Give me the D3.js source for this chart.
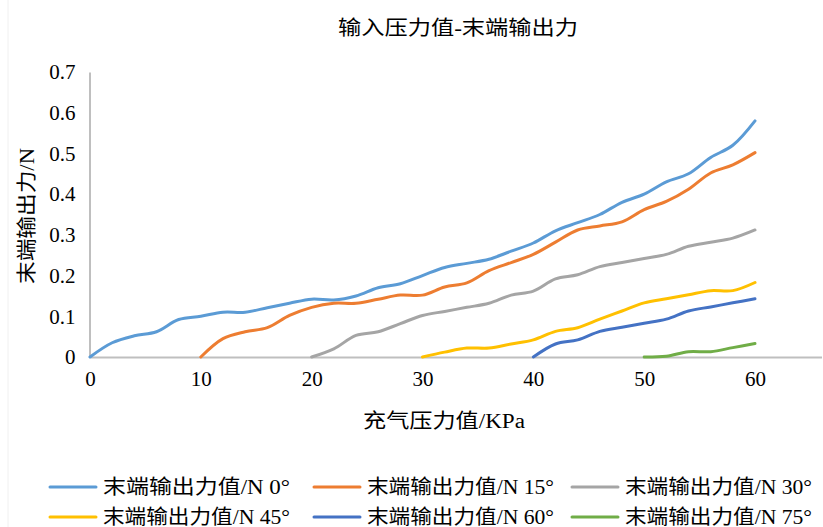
<!DOCTYPE html>
<html>
<head>
<meta charset="utf-8">
<script src="https://cdn.jsdelivr.net/npm/d3@7"></script>
<style>
  html, body { margin: 0; padding: 0; background: #fff; }
  svg { display: block; }
  text { font-family: "Liberation Serif", "Times New Roman", "Noto Sans CJK SC", serif; fill: #000; }
</style>
</head>
<body>
<svg id="chart" width="823" height="527"></svg>
<script>
// Inflation pressure (KPa), sampled every 2 KPa
const pressure = d3.range(0, 61, 2);

// End output force (N) for each bending angle; each series starts at its own pressure
const start0 = 0;
const force0 = [0, 0.035, 0.052, 0.062, 0.092, 0.100, 0.110, 0.110, 0.121, 0.132, 0.142,
  0.140, 0.150, 0.170, 0.180, 0.200, 0.220, 0.230, 0.240, 0.260, 0.280,
  0.310, 0.330, 0.350, 0.380, 0.400, 0.430, 0.450, 0.490, 0.520, 0.580];
const start15 = 10;
const force15 = [0, 0.045, 0.062, 0.072, 0.102, 0.122, 0.132, 0.132, 0.142, 0.152, 0.152,
  0.172, 0.182, 0.212, 0.232, 0.252, 0.282, 0.312, 0.322, 0.332, 0.362,
  0.382, 0.412, 0.452, 0.472, 0.502];
const start30 = 20;
const force30 = [0, 0.020, 0.053, 0.062, 0.082, 0.102, 0.112, 0.122, 0.132, 0.152, 0.162,
  0.192, 0.202, 0.222, 0.232, 0.242, 0.252, 0.272, 0.282, 0.292, 0.312];
const start45 = 30;
const force45 = [0, 0.012, 0.022, 0.022, 0.032, 0.042, 0.063, 0.072, 0.093, 0.113, 0.133,
  0.143, 0.153, 0.163, 0.163, 0.183];
const start60 = 40;
const force60 = [0, 0.032, 0.042, 0.063, 0.073, 0.083, 0.093, 0.113, 0.123, 0.133, 0.143];
const start75 = 50;
const force75 = [0, 0.002, 0.013, 0.013, 0.023, 0.033];

const seriesNames = ["末端输出力值/N 0°", "末端输出力值/N 15°", "末端输出力值/N 30°",
  "末端输出力值/N 45°", "末端输出力值/N 60°", "末端输出力值/N 75°"];
const seriesColors = ["#5B9BD5", "#ED7D31", "#A5A5A5", "#FFC000", "#4472C4", "#70AD47"];
const seriesStarts = [start0, start15, start30, start45, start60, start75];
const seriesValues = [force0, force15, force30, force45, force60, force75];

const xTicks = [0, 10, 20, 30, 40, 50, 60];
const yTicks = [0, 0.1, 0.2, 0.3, 0.4, 0.5, 0.6, 0.7];

const title = "输入压力值-末端输出力";
const xTitle = "充气压力值/KPa";
const yTitle = "末端输出力/N";

const serif = '"Liberation Serif", "Times New Roman", "Noto Sans CJK SC", serif';

const series = seriesNames.map((name, i) => ({
  name,
  color: seriesColors[i],
  points: seriesValues[i].map((v, j) => ({ x: seriesStarts[i] + j * 2, y: v }))
}));

const svg = d3.select("#chart");

const x = d3.scaleLinear().domain([0, 66]).range([90, 821.5]);
const y = d3.scaleLinear().domain([0, 0.7]).range([357, 72]);

// faint outer frame edge
svg.append("line").attr("x1", 8).attr("x2", 8).attr("y1", 0).attr("y2", 527)
  .attr("stroke", "#f0f0f0").attr("stroke-width", 1);

// title
svg.append("text").attr("x", 458).attr("y", 35).attr("text-anchor", "middle")
  .style("font-family", serif).style("font-size", "20px")
  .attr("textLength", 240).attr("lengthAdjust", "spacingAndGlyphs")
  .text(title);

// axes
const xAxis = d3.axisBottom(x).tickValues(xTicks).tickSize(0).tickPadding(14)
  .tickFormat(d3.format("d"));
const gx = svg.append("g").attr("transform", `translate(0,${y(0)})`).call(xAxis);
gx.select(".domain").attr("stroke", "#BFBFBF").attr("stroke-width", 2);
gx.selectAll("text").style("font-size", "21px").style("font-family", serif);

const yAxis = d3.axisLeft(y).tickValues(yTicks).tickSize(0).tickPadding(14)
  .tickFormat(d => d === 0 ? "0" : d3.format(".1f")(d));
const gy = svg.append("g").attr("transform", `translate(${x(0) - 0.5},0)`).call(yAxis);
gy.select(".domain").attr("stroke", "#BFBFBF").attr("stroke-width", 2);
gy.selectAll("text").style("font-size", "21px").style("font-family", serif);

// axis titles
svg.append("text").attr("x", 444).attr("y", 428).attr("text-anchor", "middle")
  .style("font-family", serif).style("font-size", "20px")
  .attr("textLength", 162).attr("lengthAdjust", "spacingAndGlyphs")
  .text(xTitle);
svg.append("text").attr("transform", "translate(34,216) rotate(-90)")
  .attr("text-anchor", "middle")
  .style("font-family", serif).style("font-size", "20px")
  .attr("textLength", 136).attr("lengthAdjust", "spacingAndGlyphs")
  .text(yTitle);

// series lines
const line = d3.line().x(d => x(d.x)).y(d => y(d.y)).curve(d3.curveCatmullRom.alpha(0.5));
svg.append("g").selectAll("path").data(series).join("path")
  .attr("d", d => line(d.points))
  .attr("fill", "none")
  .attr("stroke", d => d.color)
  .attr("stroke-width", 3)
  .attr("stroke-linecap", "round")
  .attr("stroke-linejoin", "round");

// legend
const legendCols = [50, 314, 572];
const legendRows = [487, 517];
const legend = svg.append("g").selectAll("g").data(series).join("g")
  .attr("transform", (d, i) => `translate(${legendCols[i % 3]},${legendRows[Math.floor(i / 3)]})`);
legend.append("line").attr("x1", 0).attr("x2", 46).attr("y1", 0).attr("y2", 0)
  .attr("stroke", d => d.color).attr("stroke-width", 3).attr("stroke-linecap", "round");
legend.append("text").attr("x", 53).attr("y", 7)
  .style("font-family", serif).style("font-size", "20px")
  .attr("textLength", 187).attr("lengthAdjust", "spacingAndGlyphs")
  .text(d => d.name);
</script>
</body>
</html>
